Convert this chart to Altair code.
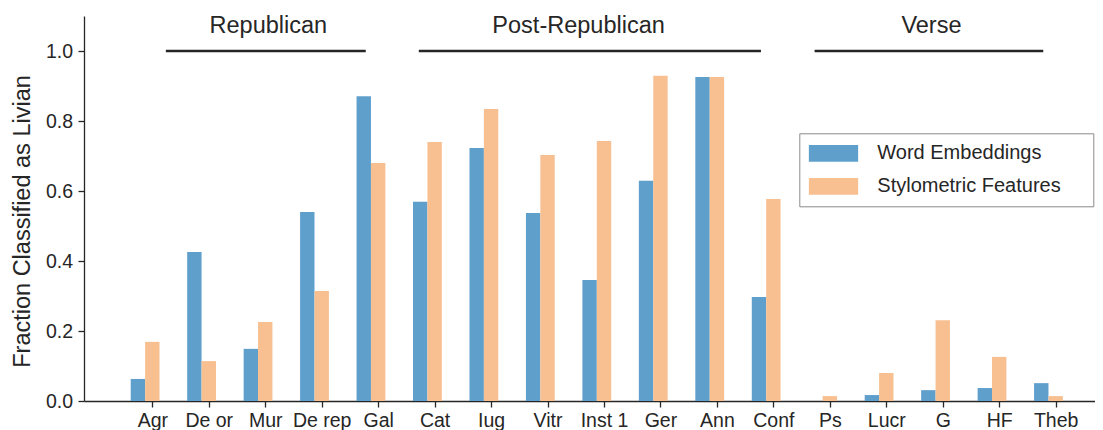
import json
import altair as alt
import pandas as pd

# ---- data ----
texts = ["Agr", "De or", "Mur", "De rep", "Gal", "Cat", "Iug", "Vitr", "Inst 1",
         "Ger", "Ann", "Conf", "Ps", "Lucr", "G", "HF", "Theb"]
word_embeddings = [0.063, 0.426, 0.149, 0.540, 0.871, 0.569, 0.723, 0.537, 0.346,
                   0.629, 0.926, 0.297, 0.000, 0.017, 0.031, 0.037, 0.051]
stylometric = [0.169, 0.114, 0.226, 0.314, 0.680, 0.740, 0.834, 0.703, 0.743,
               0.929, 0.926, 0.577, 0.014, 0.080, 0.231, 0.126, 0.014]
series_names = ["Word Embeddings", "Stylometric Features"]
series_colors = ["#5F9FCC", "#F8C091"]

groups = ["Republican", "Post-Republican", "Verse"]
group_start = [0.24, 4.72, 11.73]
group_end = [3.78, 10.78, 15.78]
group_label_x = [2.055, 7.55, 13.80]

y_ticks = [0.0, 0.2, 0.4, 0.6, 0.8, 1.0]

# ---- tables ----
BAR_W = 0.255
rows = []
for i, name in enumerate(texts):
    for s, (sname, vals) in enumerate(zip(series_names, [word_embeddings, stylometric])):
        center = i + (s - 1) * BAR_W
        rows.append({"text": name, "series": sname, "value": vals[i],
                     "x0": center - BAR_W / 2, "x1": center + BAR_W / 2})
bars_df = pd.DataFrame(rows)
groups_df = pd.DataFrame({"group": groups, "start": group_start,
                          "end": group_end, "lx": group_label_x})

INK = "#262626"
FONT = "Liberation Sans"

PLOT_W = 1011
xscale = alt.Scale(domain=[-1.21, -1.21 + PLOT_W / 56.46], nice=False, zero=False)
yscale = alt.Scale(domain=[0, 1.1], nice=False, zero=True)

label_expr = json.dumps(texts) + "[datum.value]"
pad_expr = "datum.label + '" + "\u00a0" * 4 + "\u200b'"

bars = alt.Chart(bars_df).mark_bar(strokeWidth=0).encode(
    x=alt.X("x0:Q", scale=xscale,
            axis=alt.Axis(values=list(range(len(texts))), labelExpr=label_expr,
                          title=None, grid=False, tickSize=6, labelPadding=4,
                          labelFontSize=19.5, labelAngle=0)),
    x2="x1:Q",
    y=alt.Y("value:Q", scale=yscale,
            axis=alt.Axis(values=y_ticks, format=".1f", grid=False, tickSize=6,
                          labelPadding=5.5, labelFontSize=19.5,
                          title="Fraction Classified as Livian",
                          titleFontSize=23.5, titleFontWeight="normal",
                          titleX=-61.5, titleY=205, titleBaseline="middle",
                          titleAlign="center", titleAngle=-90)),
    y2=alt.datum(0),
    color=alt.Color("series:N",
                    scale=alt.Scale(domain=series_names, range=series_colors),
                    legend=alt.Legend(title=None, orient="none",
                                      legendX=715.3, legendY=117.3,
                                      symbolType="M-2.95,-1H2.95V1H-2.95Z",
                                      symbolSize=279, symbolOffset=14.2,
                                      symbolStrokeWidth=0, symbolOpacity=1,
                                      labelOffset=33.8, padding=10, rowPadding=13,
                                      strokeColor="#8a8a8a", fillColor="white",
                                      labelFontSize=20, labelLimit=400,
                                      labelColor=INK, labelFont=FONT,
                                      labelExpr=pad_expr)),
)

rules = alt.Chart(groups_df).mark_rule(color=INK, strokeWidth=2.6).encode(
    x=alt.X("start:Q", scale=xscale),
    x2="end:Q",
    y=alt.datum(1.0),
)

labels = alt.Chart(groups_df).mark_text(
    fontSize=23.5, color=INK, font=FONT, baseline="alphabetic", align="center"
).encode(
    x=alt.X("lx:Q", scale=xscale),
    y=alt.datum(1.051),
    text="group:N",
)

chart = alt.layer(bars, rules, labels).properties(
    width=PLOT_W, height=385,
    autosize=alt.AutoSizeParams(type="none"),
    padding={"left": 76, "top": 8, "right": 0, "bottom": 29},
).configure(font=FONT).configure_view(strokeWidth=0).configure_axis(
    domainColor=INK, tickColor=INK, labelColor=INK, titleColor=INK,
    domainWidth=1.3, tickWidth=1.3, labelFont=FONT, titleFont=FONT,
)

chart.save("out.html", embed_options={"renderer": "svg", "actions": False})
